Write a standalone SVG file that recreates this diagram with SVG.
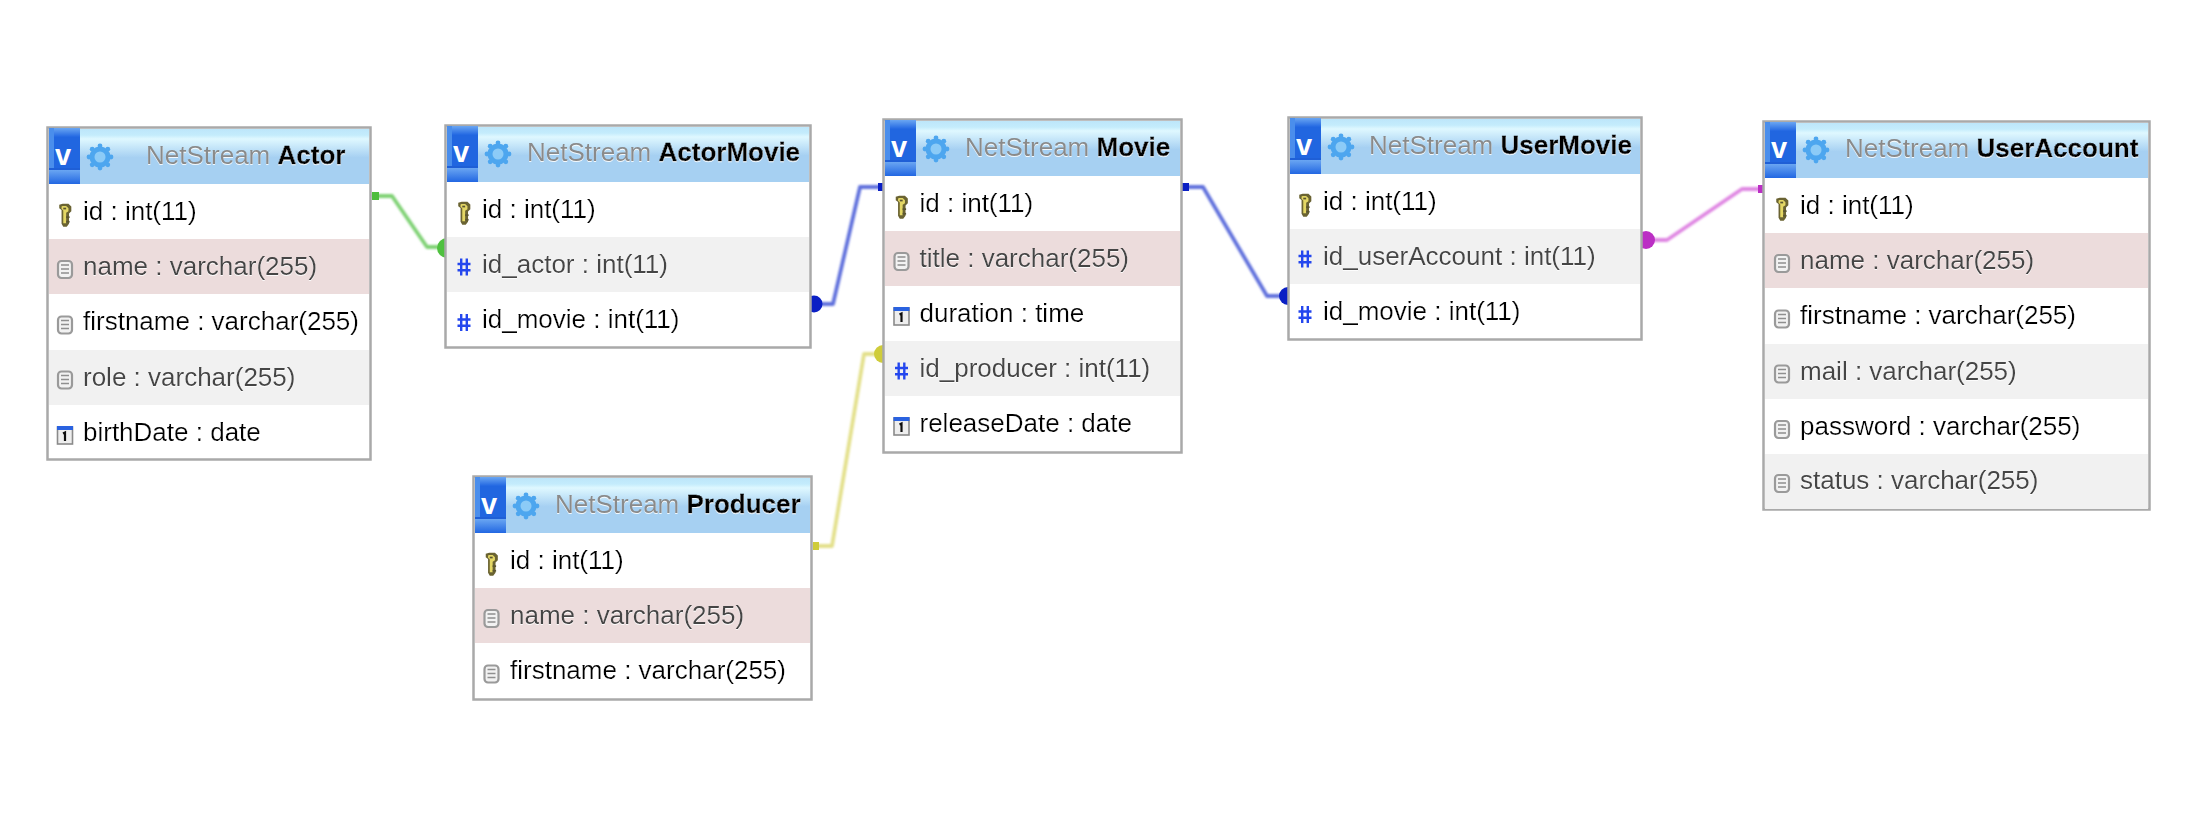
<svg xmlns="http://www.w3.org/2000/svg" width="2186" height="826" viewBox="0 0 2186 826">
<style>
text{font-family:"Liberation Sans",Arial,sans-serif;font-size:26px;fill:#000}
.box{fill:#fff;stroke:#a9a9a9;stroke-width:2.500}
.pink{fill:#ecdcdc}.gray{fill:#f1f1f1}
.hd{fill:url(#hg)}
.dim{fill:#444}
.soft{filter:url(#soft)}
.db{fill:#8a8a8a}
.tb{font-weight:bold;stroke:#000;stroke-width:.35px}
.v{font-weight:bold;font-size:29px;fill:#fff;text-anchor:middle}
.ln{fill:none;stroke-width:3.800;stroke-linejoin:round}
.wire{filter:url(#wire)}
</style>
<defs>
<filter id="soft" x="-5%" y="-20%" width="110%" height="140%"><feGaussianBlur in="SourceGraphic" stdDeviation="0.4" result="b"/><feOffset in="SourceAlpha" dx="0" dy="1.200" result="o"/><feFlood flood-color="#fff" flood-opacity=".85"/><feComposite in2="o" operator="in" result="w"/><feMerge><feMergeNode in="w"/><feMergeNode in="b"/></feMerge></filter>
<filter id="wire" x="-20%" y="-20%" width="140%" height="140%"><feGaussianBlur stdDeviation="0.9"/></filter>
<filter id="ic" x="-30%" y="-30%" width="160%" height="160%"><feGaussianBlur stdDeviation="0.7"/></filter>
<linearGradient id="hg" x1="0" y1="0" x2="0" y2="1"><stop offset="0" stop-color="#bde6fa"/><stop offset=".11" stop-color="#c4ecfc"/><stop offset=".18" stop-color="#dff8ff"/><stop offset=".52" stop-color="#a6d0f2"/><stop offset="1" stop-color="#a6d0f2"/></linearGradient>
<linearGradient id="tt" x1="0" y1="0" x2="0" y2="1"><stop offset="0" stop-color="#6aa6f2"/><stop offset="1" stop-color="#2267e2"/></linearGradient>
<g id="tile">
<rect x="2" y="2" width="31" height="56" fill="#2166e0"/>
<rect x="2" y="2" width="31" height="9" fill="url(#tt)"/>
<rect x="2" y="2" width="5" height="40" fill="#4a8eec"/>
<rect x="2" y="42" width="31" height="2" fill="#1f5fd6"/>
<rect x="2" y="44" width="31" height="14" fill="url(#tt)"/>
</g>
<g id="gear" fill="#4ea6ef" filter="url(#ic)">
<circle r="10.500"/>
<circle cx="0" cy="-11" r="2.400"/><circle cx="0" cy="11" r="2.400"/><circle cx="-11" cy="0" r="2.400"/><circle cx="11" cy="0" r="2.400"/>
<circle cx="-7.800" cy="-7.800" r="2.400"/><circle cx="7.800" cy="-7.800" r="2.400"/><circle cx="-7.800" cy="7.800" r="2.400"/><circle cx="7.800" cy="7.800" r="2.400"/>
<circle r="5.500" fill="#8ccbf7"/>
</g>
<g id="key" filter="url(#ic)">
<g transform="scale(1.150)">
<path d="M-3-9h5l2.500 2.500v4l-2 2v9l-2 2.500h-3l-1.500-2.500v-12l-2-1.500v-3z" fill="#6b6433" transform="translate(1 0)"/>
<path d="M-2-7h3l2 2v2.500l-2 1.500v9h-2.500v-11l-1.500-1.500v-2z" fill="#e4d765"/>
<rect x="-1.500" y="-5.500" width="2.500" height="1.500" fill="#5a5530"/>
<rect x="1" y="2" width="3" height="1.500" fill="#5a5530"/><rect x="1" y="6" width="3" height="1.500" fill="#5a5530"/>
</g>
</g>
<g id="doc" filter="url(#ic)">
<rect x="-7" y="-8" width="14" height="17" rx="3.500" fill="#f2f2f2" stroke="#9a9a9a" stroke-width="2.200"/>
<path d="M-4-4h8M-4 0h8M-4 4h8" stroke="#8f8f8f" stroke-width="1.400" fill="none"/>
</g>
<g id="cal" filter="url(#ic)">
<rect x="-7.500" y="-8" width="15" height="17" fill="#eee" stroke="#8a8a8a" stroke-width="1.600"/>
<rect x="-8" y="-9" width="16" height="4" fill="#2c62e0"/>
<path d="M-2-1.500l2-1v8.500" stroke="#111" stroke-width="2.200" fill="none"/>
</g>
<g id="hash" stroke="#2447ee" stroke-width="2.400" fill="none">
<path d="M-2.800-8.500v17M2.800-8.500v17M-6.500-3h13M-6.500 3.200h13"/>
</g>
</defs>

<rect width="2186" height="826" fill="#fff"/>

<g id="connectors">
<g class="wire">
<path class="ln" stroke="#7ed173" d="M372 196H392L427 247H445"/>
<path class="ln" stroke="#5f6fdc" d="M810 304H833L860 187H884"/>
<path class="ln" stroke="#5f6fdc" d="M1181 187H1203L1267 296H1287"/>
<path class="ln" stroke="#e3e08a" d="M813 546H832L864 354H884"/>
<path class="ln" stroke="#df85e2" d="M1642 240H1667L1742 189H1764"/>
</g>
<rect x="372" y="192" width="7" height="8" fill="#4dbd3c"/>
<circle cx="447" cy="248" r="10" fill="#4fc13f"/>
<circle cx="814" cy="304" r="8.500" fill="#0a1fc4"/>
<rect x="878" y="183" width="6" height="8" fill="#0a1fc4"/>
<rect x="1182" y="183" width="7" height="8" fill="#0a1fc4"/>
<circle cx="1288" cy="296" r="9" fill="#0a1fc4"/>
<rect x="813" y="542" width="6" height="8" fill="#cfcc3a"/>
<circle cx="883" cy="354" r="9" fill="#cfcc3a"/>
<circle cx="1646" cy="240" r="9" fill="#bb2ec4"/>
<rect x="1758" y="185" width="6" height="8" fill="#bb2ec4"/>
</g>

<g id="Actor" transform="translate(46 126)">
<rect class="box" x="1.500" y="1.500" width="323" height="332"/>
<rect class="hd" x="3" y="3" width="320" height="55"/>
<use href="#tile" x="1"/><use href="#gear" x="54" y="31"/>
<rect class="pink" x="3" y="113" width="320" height="55"/>
<rect class="gray" x="3" y="224" width="320" height="55"/>
<text class="v" x="17" y="39">v</text>
<use href="#key" x="19" y="88"/><use href="#doc" x="19" y="143"/><use href="#doc" x="19" y="198.500"/><use href="#doc" x="19" y="253.500"/><use href="#cal" x="19" y="309"/>
<g class="soft">
<text x="100" y="38"><tspan class="db">NetStream </tspan><tspan class="tb">Actor</tspan></text>
<text x="37" y="94">id : int(11)</text>
<text class="dim" x="37" y="149.200">name : varchar(255)</text>
<text x="37" y="204.400">firstname : varchar(255)</text>
<text class="dim" x="37" y="259.600">role : varchar(255)</text>
<text x="37" y="314.800">birthDate : date</text>
</g>
</g>

<g id="ActorMovie" transform="translate(444 124)">
<rect class="box" x="1.500" y="1.500" width="365" height="222"/>
<rect class="hd" x="3" y="3" width="362" height="55"/>
<use href="#tile" x="1"/><use href="#gear" x="54" y="30"/>
<rect class="gray" x="3" y="113" width="362" height="55"/>
<text class="v" x="17" y="38">v</text>
<use href="#key" x="20" y="88"/><use href="#hash" x="20" y="143"/><use href="#hash" x="20" y="198.500"/>
<g class="soft">
<text x="83" y="37"><tspan class="db">NetStream </tspan><tspan class="tb">ActorMovie</tspan></text>
<text x="38" y="94">id : int(11)</text>
<text class="dim" x="38" y="149.200">id_actor : int(11)</text>
<text x="38" y="204.400">id_movie : int(11)</text>
</g>
</g>

<g id="Movie" transform="translate(882 118)">
<rect class="box" x="1.500" y="1.500" width="298" height="333"/>
<rect class="hd" x="3" y="3" width="295" height="55"/>
<use href="#tile" x="1"/><use href="#gear" x="54" y="31"/>
<rect class="pink" x="3" y="113" width="295" height="55"/>
<rect class="gray" x="3" y="223" width="295" height="55"/>
<text class="v" x="17" y="39">v</text>
<use href="#key" x="19.500" y="88"/><use href="#doc" x="19.500" y="143"/><use href="#cal" x="19.500" y="198"/><use href="#hash" x="19.500" y="253"/><use href="#cal" x="19.500" y="308"/>
<g class="soft">
<text x="83" y="38"><tspan class="db">NetStream </tspan><tspan class="tb">Movie</tspan></text>
<text x="37.500" y="94">id : int(11)</text>
<text class="dim" x="37.500" y="149">title : varchar(255)</text>
<text x="37.500" y="204">duration : time</text>
<text class="dim" x="37.500" y="259">id_producer : int(11)</text>
<text x="37.500" y="314">releaseDate : date</text>
</g>
</g>

<g id="UserMovie" transform="translate(1287 116)">
<rect class="box" x="1.500" y="1.500" width="353" height="222"/>
<rect class="hd" x="3" y="3" width="350" height="55"/>
<use href="#tile" x="1"/><use href="#gear" x="54" y="31"/>
<rect class="gray" x="3" y="113" width="350" height="55"/>
<text class="v" x="17" y="39">v</text>
<use href="#key" x="18" y="88"/><use href="#hash" x="18" y="143"/><use href="#hash" x="18" y="198.500"/>
<g class="soft">
<text x="82" y="38"><tspan class="db">NetStream </tspan><tspan class="tb">UserMovie</tspan></text>
<text x="36" y="94">id : int(11)</text>
<text class="dim" x="36" y="149.200">id_userAccount : int(11)</text>
<text x="36" y="204.400">id_movie : int(11)</text>
</g>
</g>

<g id="UserAccount" transform="translate(1762 120)">
<rect class="box" x="1.500" y="1.500" width="386" height="388"/>
<rect class="hd" x="3" y="3" width="383" height="55"/>
<use href="#tile" x="1"/><use href="#gear" x="54" y="30"/>
<rect class="pink" x="3" y="113" width="383" height="55"/>
<rect class="gray" x="3" y="224" width="383" height="55"/>
<rect class="gray" x="3" y="334" width="383" height="55"/>
<text class="v" x="17" y="38">v</text>
<use href="#key" x="20" y="88"/><use href="#doc" x="20" y="143"/><use href="#doc" x="20" y="198.500"/><use href="#doc" x="20" y="253.500"/><use href="#doc" x="20" y="309"/><use href="#doc" x="20" y="363"/>
<g class="soft">
<text x="83" y="37"><tspan class="db">NetStream </tspan><tspan class="tb">UserAccount</tspan></text>
<text x="38" y="94">id : int(11)</text>
<text class="dim" x="38" y="149.200">name : varchar(255)</text>
<text x="38" y="204.400">firstname : varchar(255)</text>
<text class="dim" x="38" y="259.600">mail : varchar(255)</text>
<text x="38" y="314.800">password : varchar(255)</text>
<text class="dim" x="38" y="369">status : varchar(255)</text>
</g>
</g>

<g id="Producer" transform="translate(472 475)">
<rect class="box" x="1.500" y="1.500" width="338" height="223"/>
<rect class="hd" x="3" y="3" width="335" height="55"/>
<use href="#tile" x="1"/><use href="#gear" x="54" y="31"/>
<rect class="pink" x="3" y="113" width="335" height="55"/>
<text class="v" x="17" y="39">v</text>
<use href="#key" x="19.500" y="88"/><use href="#doc" x="19.500" y="143"/><use href="#doc" x="19.500" y="198.500"/>
<g class="soft">
<text x="83" y="38"><tspan class="db">NetStream </tspan><tspan class="tb">Producer</tspan></text>
<text x="38" y="94">id : int(11)</text>
<text class="dim" x="38" y="149.200">name : varchar(255)</text>
<text x="38" y="204.400">firstname : varchar(255)</text>
</g>
</g>
</svg>
